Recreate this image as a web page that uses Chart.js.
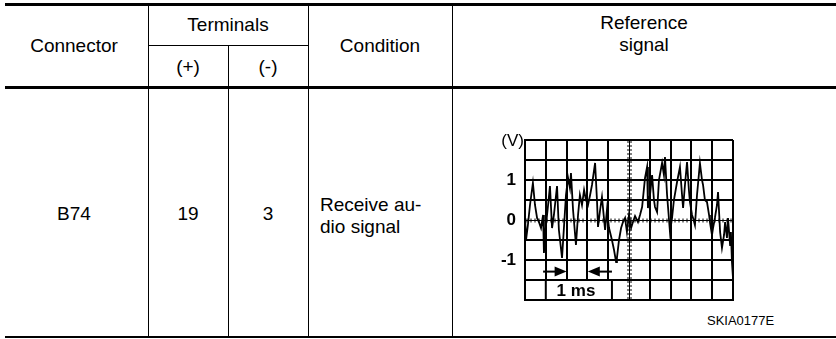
<!DOCTYPE html>
<html><head><meta charset="utf-8">
<script src="https://cdn.jsdelivr.net/npm/chart.js@4/dist/chart.umd.min.js"></script>
<style>
html,body{margin:0;padding:0;background:#fff;}
#wrap{position:relative;width:836px;height:339px;overflow:hidden;font-family:"Liberation Sans",Arial,sans-serif;color:#000;}
.ln{position:absolute;background:#000;}
.t{position:absolute;font-size:19px;line-height:22px;white-space:nowrap;transform:translate(-50%,-50%);text-align:center;}
.l{position:absolute;font-size:19px;line-height:22px;white-space:nowrap;}
#cv{position:absolute;left:452px;top:88px;width:384px;height:249px;}
</style></head><body>
<div id="wrap">
  <!-- horizontal rules -->
  <div class="ln" style="left:5px;top:3px;width:831px;height:3px;"></div>
  <div class="ln" style="left:5px;top:86px;width:831px;height:3px;"></div>
  <div class="ln" style="left:5px;top:336px;width:831px;height:2px;"></div>
  <div class="ln" style="left:148px;top:45px;width:160px;height:1px;"></div>
  <!-- vertical rules -->
  <div class="ln" style="left:148px;top:6px;width:1px;height:331px;"></div>
  <div class="ln" style="left:228px;top:45px;width:1px;height:292px;"></div>
  <div class="ln" style="left:308px;top:6px;width:1px;height:331px;"></div>
  <div class="ln" style="left:452px;top:6px;width:1px;height:331px;"></div>
  <!-- header text -->
  <div class="t" style="left:74px;top:46px;">Connector</div>
  <div class="t" style="left:228px;top:25px;">Terminals</div>
  <div class="t" style="left:188px;top:67px;">(+)</div>
  <div class="t" style="left:268px;top:67px;">(-)</div>
  <div class="t" style="left:380px;top:46px;">Condition</div>
  <div class="t" style="left:644px;top:34px;">Reference<br>signal</div>
  <!-- body text -->
  <div class="t" style="left:74px;top:214px;">B74</div>
  <div class="t" style="left:188px;top:214px;">19</div>
  <div class="t" style="left:268px;top:214px;">3</div>
  <div class="l" style="left:320px;top:194px;">Receive au-<br>dio signal</div>
  <div class="l" style="left:707px;top:313px;font-size:13px;line-height:16px;">SKIA0177E</div>
  <canvas id="cv" width="384" height="249"></canvas>
</div>
<script>
// Time axis in ms, voltage in V
const timeMs = [0.00,0.05,0.14,0.24,0.38,0.48,0.58,0.67,0.77,0.87,0.91,1.01,1.11,1.20,1.30,1.39,1.54,1.63,1.78,1.88,1.97,2.07,2.16,2.21,2.31,2.45,2.55,2.64,2.74,2.84,2.93,3.03,3.13,3.22,3.37,3.46,3.51,3.61,3.70,3.85,3.94,4.04,4.18,4.28,4.38,4.42,4.52,4.62,4.71,4.81,4.90,5.00,5.10,5.19,5.29,5.43,5.53,5.63,5.77,5.87,5.91,6.01,6.11,6.20,6.25,6.35,6.44,6.59,6.68,6.73,6.83,6.88,6.97,7.07,7.16,7.31,7.45,7.55,7.60,7.69,7.79,7.88,7.93,8.03,8.08,8.17,8.27,8.41,8.51,8.56,8.65,8.75,8.85,8.89,8.99,9.04,9.13,9.23,9.28,9.38,9.47,9.57,9.62,9.71,9.76,9.86,9.90,9.95,10.00];
const volts = [0.125,-0.5,-0.125,0.375,0.925,0.375,0.05,-0.05,-0.2,0.125,-0.825,-0.125,0.375,0.85,-0.2,0.125,0.85,-0.25,-0.95,-0.125,0.625,1.05,0.8,1.175,0.25,-0.625,0.125,0.625,0.375,0.75,0.5,0.375,0.625,0.875,1.425,0.5,-0.175,0.25,0.575,-0.25,0.25,-0.2,-0.5,-0.75,-1.05,-0.95,-0.5,-0.2,-0.05,0.05,-0.3,0.125,-0.2,-0.05,0.1,-0.05,0.125,0.325,1.05,1.325,0.3,0.625,1.125,0.5,0.325,0.2,1.0,1.425,1.125,1.575,0.625,0.3,-0.3,0.05,0.5,0.95,1.325,0.625,0.3,0.875,1.45,0.75,0.45,0.125,0.05,-0.125,0.625,1.425,1.0,0.875,0.5,0.45,0.125,-0.05,-0.375,-0.2,0.05,0.375,0.7,-0.3,-0.7,-0.375,-0.05,-0.45,0.05,-0.625,-0.3,-1.05,-1.45];
const voltTickLabels = [-1, 0, 1];
const axisUnit = '(V)';
const timeLabel = '1 ms';

const points = timeMs.map((t, i) => ({x: t, y: volts[i]}));
const FONT = '"Liberation Sans", Arial, sans-serif';

const scopeDecor = {
  id: 'scopeDecor',
  afterDatasetsDraw(chart) {
    const {ctx, chartArea: ca, scales: {x, y}} = chart;
    ctx.save();
    // centre graticule lines with ruler ticks
    ctx.strokeStyle = '#000';
    ctx.lineWidth = 1;
    const cx = Math.round(x.getPixelForValue(5)) + 0.5;
    const cy = Math.round(y.getPixelForValue(0)) + 0.5;
    ctx.beginPath();
    ctx.moveTo(cx, ca.top); ctx.lineTo(cx, ca.bottom);
    for (let p = ca.top + 2; p < ca.bottom; p += 4) { ctx.moveTo(cx - 2.5, p); ctx.lineTo(cx + 2.5, p); }
    ctx.moveTo(ca.left, cy); ctx.lineTo(ca.right, cy);
    for (let p = ca.left + 2; p < ca.right; p += 4) { ctx.moveTo(p, cy - 2); ctx.lineTo(p, cy + 2); }
    ctx.stroke();

    // 1 ms label box
    const bx0 = x.getPixelForValue(1), bx1 = x.getPixelForValue(4.18);
    const by0 = y.getPixelForValue(-1.5), by1 = y.getPixelForValue(-2);
    ctx.fillStyle = '#fff';
    ctx.fillRect(bx0, by0, bx1 - bx0, by1 - by0);
    ctx.lineWidth = 2;
    ctx.strokeRect(bx0, by0, bx1 - bx0, by1 - by0);
    ctx.fillStyle = '#000';
    ctx.font = 'bold 17px ' + FONT;
    ctx.textAlign = 'center';
    ctx.textBaseline = 'middle';
    ctx.fillText(timeLabel, x.getPixelForValue(2.45), (by0 + by1) / 2 + 1);

    // arrows
    const ay = y.getPixelForValue(-1.29);
    function arrow(from, to) {
      const fx = x.getPixelForValue(from), tx = x.getPixelForValue(to);
      const dir = Math.sign(tx - fx);
      ctx.lineWidth = 2;
      ctx.beginPath(); ctx.moveTo(fx, ay); ctx.lineTo(tx - dir * 8, ay); ctx.stroke();
      ctx.beginPath();
      ctx.moveTo(tx, ay); ctx.lineTo(tx - dir * 12, ay - 5); ctx.lineTo(tx - dir * 12, ay + 5);
      ctx.closePath(); ctx.fill();
    }
    arrow(0.87, 2.0);
    arrow(4.18, 3.02);

    // unit label
    ctx.font = '17px ' + FONT;
    ctx.textAlign = 'right';
    ctx.textBaseline = 'middle';
    ctx.fillText(axisUnit, ca.left - 1, ca.top + 1);
    ctx.restore();
  }
};

new Chart(document.getElementById('cv'), {
  type: 'line',
  data: { datasets: [{ data: points, borderColor: '#000', borderWidth: 1.8, pointRadius: 0, tension: 0, fill: false }] },
  options: {
    responsive: false,
    animation: false,
    events: [],
    layout: { padding: { left: 0, top: 52, right: 103, bottom: 37 } },
    plugins: { legend: { display: false }, tooltip: { enabled: false } },
    scales: {
      x: {
        type: 'linear', min: 0, max: 10,
        ticks: { display: false, stepSize: 1 },
        grid: { color: c => (c.tick && c.tick.value === 5) ? 'rgba(0,0,0,0)' : '#000', lineWidth: 2, drawTicks: false },
        border: { display: true, color: '#000', width: 2 },
        afterFit: s => { s.height = 0; }
      },
      y: {
        min: -2, max: 2,
        ticks: {
          stepSize: 0.5, autoSkip: false, padding: 9, color: '#000',
          font: { family: FONT, size: 17, weight: 'bold' },
          callback: v => voltTickLabels.includes(v) ? String(v) : ''
        },
        grid: { color: c => (c.tick && c.tick.value === 0) ? 'rgba(0,0,0,0)' : '#000', lineWidth: 2, drawTicks: false },
        border: { display: true, color: '#000', width: 2 },
        afterFit: s => { s.width = 73; }
      }
    }
  },
  plugins: [scopeDecor]
});
</script>
</body></html>
